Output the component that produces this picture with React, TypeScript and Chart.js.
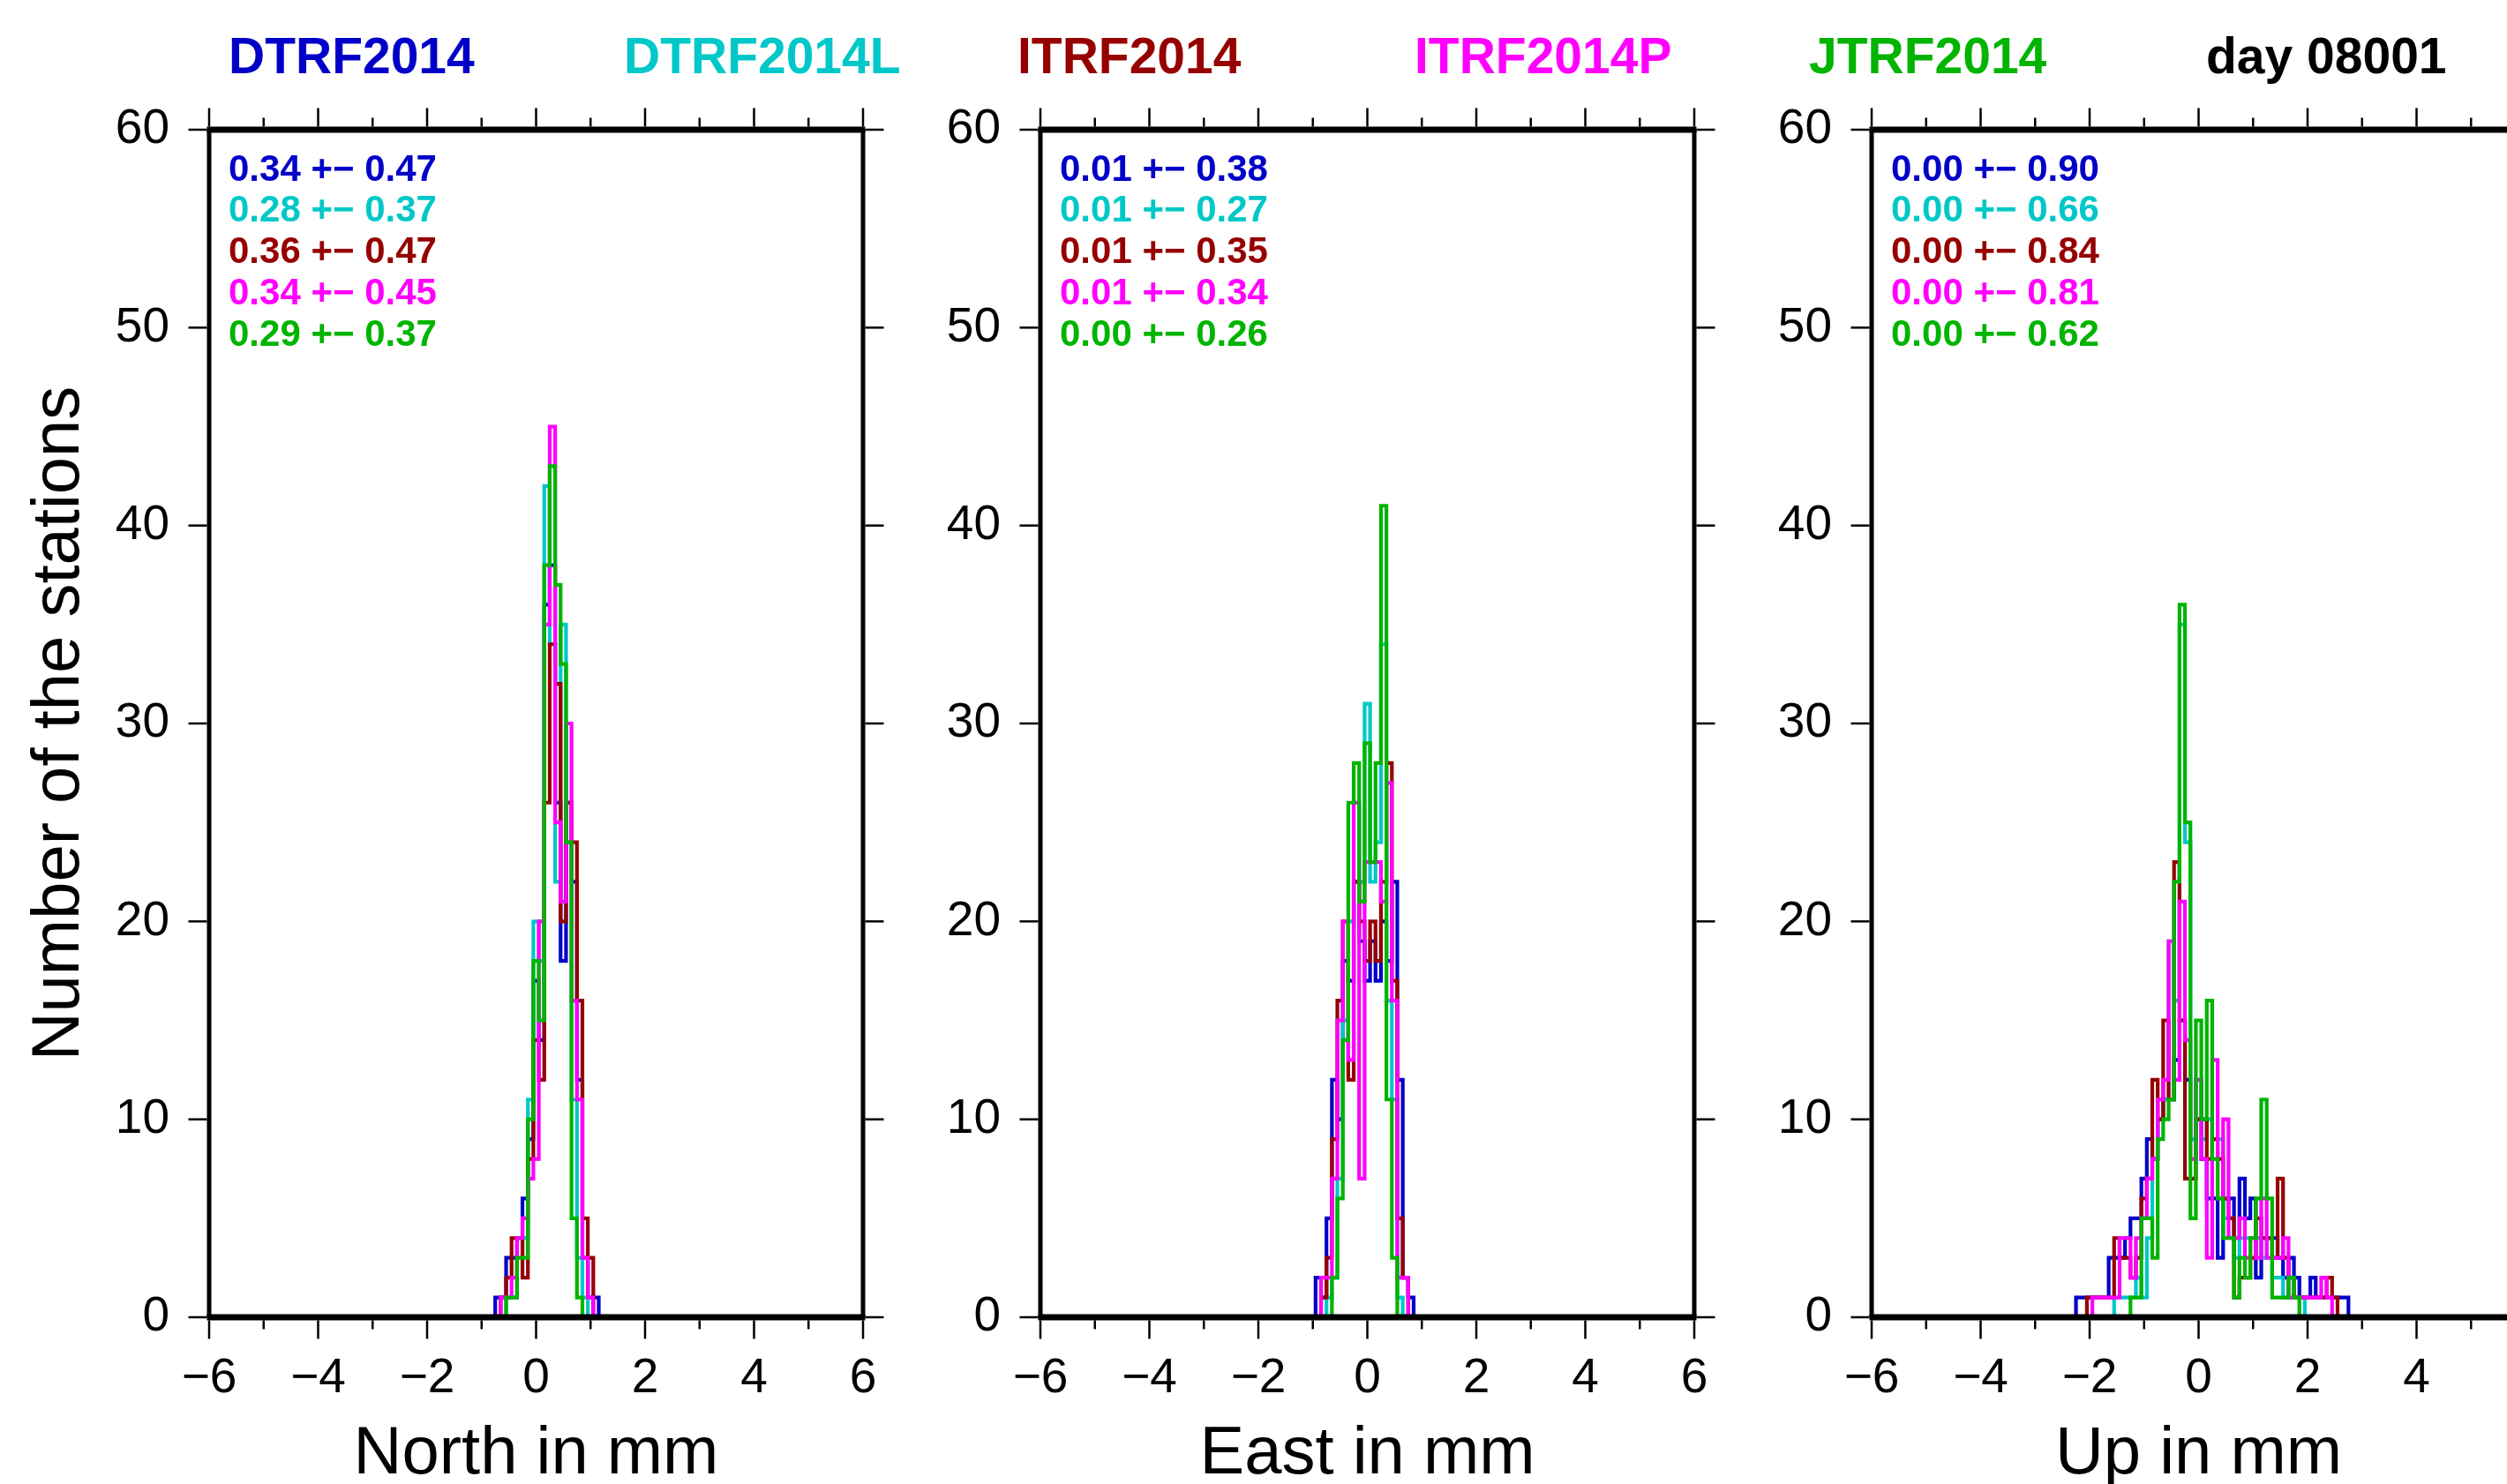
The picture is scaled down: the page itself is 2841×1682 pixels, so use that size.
import React, { useEffect, useRef } from 'react';
import { Chart, registerables } from 'chart.js';

Chart.register(...registerables);

const FONT = '"Liberation Sans", Arial, Helvetica, sans-serif';
const PAGE_W = 2841;
const PAGE_H = 1682;
const CANVAS_W = 2980;
const CANVAS_H = 1720;

const BIN_WIDTH = 0.1;

const seriesNames = ['DTRF2014', 'DTRF2014L', 'ITRF2014', 'ITRF2014P', 'JTRF2014'];
const seriesColors = ['#0000c8', '#00c8c8', '#960000', '#ff00ff', '#00b400'];
const dayLabel = 'day 08001';

const xTickValues = [-6, -4, -2, 0, 2, 4, 6];
const yTickValues = [0, 10, 20, 30, 40, 50, 60];

// ---- North (bin centres from -0.7, width 0.1) ----
const northStart = -0.7;
const northDTRF2014 = [1, 1, 3, 3, 4, 6, 9, 17, 14, 36, 38, 26, 18, 26, 22, 12, 3, 1, 1];
const northDTRF2014L = [0, 0, 1, 1, 3, 4, 11, 20, 18, 42, 34, 22, 35, 24, 11, 3, 1, 0, 0];
const northITRF2014 = [0, 1, 2, 4, 4, 2, 8, 14, 12, 26, 34, 32, 20, 26, 24, 16, 5, 3, 0];
const northITRF2014P = [0, 1, 1, 2, 4, 5, 7, 8, 20, 35, 45, 25, 21, 30, 16, 11, 3, 1, 0];
const northJTRF2014 = [0, 0, 1, 1, 3, 3, 10, 18, 15, 38, 43, 37, 33, 24, 5, 1, 0, 0, 0];
const northStats = ['0.34 +\u2212 0.47', '0.28 +\u2212 0.37', '0.36 +\u2212 0.47', '0.34 +\u2212 0.45', '0.29 +\u2212 0.37'];

// ---- East (bin centres from -0.9) ----
const eastStart = -0.9;
const eastDTRF2014 = [2, 1, 5, 12, 10, 18, 17, 22, 19, 17, 19, 17, 20, 18, 22, 12, 2, 1];
const eastDTRF2014L = [0, 0, 1, 2, 7, 15, 20, 26, 22, 31, 22, 24, 34, 16, 11, 1, 0, 0];
const eastITRF2014 = [0, 1, 3, 9, 16, 20, 12, 22, 20, 18, 20, 18, 22, 28, 17, 5, 2, 0];
const eastITRF2014P = [0, 2, 2, 7, 15, 20, 13, 26, 7, 23, 23, 23, 21, 27, 16, 2, 2, 0];
const eastJTRF2014 = [0, 0, 0, 2, 6, 14, 26, 28, 21, 29, 23, 28, 41, 11, 3, 0, 0, 0];
const eastStats = ['0.01 +\u2212 0.38', '0.01 +\u2212 0.27', '0.01 +\u2212 0.35', '0.01 +\u2212 0.34', '0.00 +\u2212 0.26'];

// ---- Up (bin centres from -2.2) ----
const upStart = -2.2;
const upDTRF2014 = [
  1, 1, 1, 1, 1, 1, 3, 3, 3, 4,
  5, 5, 7, 9, 8, 10, 11, 11, 13, 15,
  12, 9, 10, 8, 6, 6, 3, 6, 6, 4,
  7, 5, 6, 2, 4, 4, 4, 3, 2, 3,
  2, 1, 1, 2, 1, 1, 1, 1, 1, 1,
];
const upDTRF2014L = [
  0, 0, 0, 0, 0, 0, 0, 1, 1, 1,
  1, 2, 1, 4, 8, 10, 11, 19, 16, 35,
  24, 9, 12, 9, 10, 9, 9, 5, 5, 3,
  4, 4, 4, 4, 3, 4, 2, 2, 1, 2,
  1, 1, 0, 0, 0, 0, 0, 0, 0, 0,
];
const upITRF2014 = [
  0, 0, 1, 1, 1, 1, 1, 4, 3, 3,
  2, 3, 6, 7, 12, 10, 15, 11, 23, 15,
  7, 7, 10, 10, 8, 9, 8, 6, 5, 1,
  2, 2, 3, 5, 4, 4, 3, 7, 3, 2,
  1, 1, 1, 1, 1, 1, 2, 1, 0, 0,
];
const upITRF2014P = [
  0, 0, 0, 1, 1, 1, 1, 1, 4, 4,
  2, 4, 5, 7, 8, 11, 12, 19, 12, 21,
  14, 8, 12, 8, 3, 13, 6, 10, 4, 4,
  5, 3, 4, 3, 6, 3, 3, 3, 4, 1,
  1, 1, 1, 1, 1, 2, 1, 0, 0, 0,
];
const upJTRF2014 = [
  0, 0, 0, 0, 0, 0, 0, 0, 0, 0,
  1, 1, 5, 5, 3, 9, 10, 11, 22, 36,
  25, 5, 15, 10, 16, 8, 6, 4, 4, 1,
  3, 2, 4, 6, 11, 6, 1, 1, 1, 2,
  1, 0, 0, 0, 0, 0, 0, 0, 0, 0,
];
const upStats = ['0.00 +\u2212 0.90', '0.00 +\u2212 0.66', '0.00 +\u2212 0.84', '0.00 +\u2212 0.81', '0.00 +\u2212 0.62'];

// ---- layout ----
const PLOT_TOP = 147;
const PLOT_BOTTOM = 1493;
const headerX = [259, 707, 1153, 1603, 2050, 2500];
const headerBaseline = 83;

type Panel = {
  xTitle: string;
  yTitle?: string;
  plotLeft: number;
  plotRight: number;
  start: number;
  counts: number[][];
  stats: string[];
};

const panels: Panel[] = [
  {
    xTitle: 'North in mm',
    yTitle: 'Number of the stations',
    plotLeft: 237,
    plotRight: 978,
    start: northStart,
    counts: [northDTRF2014, northDTRF2014L, northITRF2014, northITRF2014P, northJTRF2014],
    stats: northStats,
  },
  {
    xTitle: 'East in mm',
    plotLeft: 1179,
    plotRight: 1920,
    start: eastStart,
    counts: [eastDTRF2014, eastDTRF2014L, eastITRF2014, eastITRF2014P, eastJTRF2014],
    stats: eastStats,
  },
  {
    xTitle: 'Up in mm',
    plotLeft: 2121,
    plotRight: 2862,
    start: upStart,
    counts: [upDTRF2014, upDTRF2014L, upITRF2014, upITRF2014P, upJTRF2014],
    stats: upStats,
  },
];

function stairs(start: number, counts: number[]) {
  const r = (v: number) => Math.round(v * 1000) / 1000;
  const e0 = start - BIN_WIDTH / 2;
  const pts: { x: number; y: number }[] = [{ x: r(e0), y: 0 }];
  counts.forEach((c, i) => {
    pts.push({ x: r(e0 + i * BIN_WIDTH), y: c });
    pts.push({ x: r(e0 + (i + 1) * BIN_WIDTH), y: c });
  });
  pts.push({ x: r(e0 + counts.length * BIN_WIDTH), y: 0 });
  return pts;
}

const fmtTick = (v: number) => (v < 0 ? '\u2212' + Math.abs(v) : String(v));

const framePlugin = {
  id: 'gmtFrame',
  afterDatasetsDraw(chart: any) {
    const { ctx, chartArea: a, scales } = chart;
    const xs = scales.x;
    const ys = scales.y;
    ctx.save();
    ctx.strokeStyle = '#000';
    ctx.lineCap = 'butt';
    const line = (x1: number, y1: number, x2: number, y2: number) => {
      ctx.beginPath();
      ctx.moveTo(x1, y1);
      ctx.lineTo(x2, y2);
      ctx.stroke();
    };
    ctx.lineWidth = 2.5;
    for (let v = -6; v <= 6; v++) {
      const px = xs.getPixelForValue(v);
      const len = v % 2 === 0 ? 21 : 10;
      line(px, a.bottom + 3.5, px, a.bottom + 3.5 + len);
      line(px, a.top - 3.5, px, a.top - 3.5 - len);
    }
    for (const v of yTickValues) {
      const py = ys.getPixelForValue(v);
      line(a.left - 2.5, py, a.left - 2.5 - 21, py);
      line(a.right + 2.5, py, a.right + 2.5 + 21, py);
    }
    ctx.lineWidth = 5;
    line(a.left, a.top, a.left, a.bottom);
    line(a.right, a.top, a.right, a.bottom);
    ctx.lineWidth = 7;
    line(a.left - 2.5, a.top, a.right + 2.5, a.top);
    line(a.left - 2.5, a.bottom, a.right + 2.5, a.bottom);
    ctx.restore();
  },
};

function statsPlugin(stats: string[]) {
  return {
    id: 'statsText',
    afterDraw(chart: any) {
      const { ctx, chartArea: a } = chart;
      ctx.save();
      ctx.font = `bold 42px ${FONT}`;
      ctx.textAlign = 'left';
      ctx.textBaseline = 'alphabetic';
      stats.forEach((s, i) => {
        ctx.fillStyle = seriesColors[i];
        ctx.fillText(s, a.left + 22, a.top + 57.5 + i * 46.75);
      });
      ctx.restore();
    },
  };
}

const headerPlugin = {
  id: 'headerText',
  afterDraw(chart: any) {
    const { ctx } = chart;
    ctx.save();
    ctx.font = `bold 57px ${FONT}`;
    ctx.textAlign = 'left';
    ctx.textBaseline = 'alphabetic';
    const labels = [...seriesNames, dayLabel];
    const colors = [...seriesColors, '#000000'];
    labels.forEach((t, i) => {
      ctx.fillStyle = colors[i];
      ctx.fillText(t, headerX[i], headerBaseline);
    });
    ctx.restore();
  },
};

function buildConfig(panel: Panel, withHeader: boolean): any {
  const yW = panel.yTitle ? panel.plotLeft : 150;
  const plugins: any[] = [framePlugin, statsPlugin(panel.stats)];
  if (withHeader) plugins.push(headerPlugin);
  return {
    type: 'line',
    data: {
      datasets: panel.counts.map((c, i) => ({
        label: seriesNames[i],
        data: stairs(panel.start, c),
        borderColor: seriesColors[i],
        backgroundColor: seriesColors[i],
        borderWidth: 4.2,
        borderJoinStyle: 'miter',
        borderCapStyle: 'butt',
        pointRadius: 0,
        pointHoverRadius: 0,
        fill: false,
        tension: 0,
        order: 5 - i,
      })),
    },
    options: {
      animation: false,
      responsive: false,
      maintainAspectRatio: false,
      devicePixelRatio: 1,
      events: [],
      layout: {
        padding: {
          left: panel.plotLeft - yW,
          right: CANVAS_W - panel.plotRight,
          top: PLOT_TOP,
          bottom: 0,
        },
      },
      plugins: {
        legend: { display: false },
        tooltip: { enabled: false },
        title: { display: false },
      },
      scales: {
        x: {
          type: 'linear',
          position: 'bottom',
          min: -6,
          max: 6,
          afterBuildTicks: (s: any) => {
            s.ticks = xTickValues.map((v) => ({ value: v }));
          },
          ticks: {
            autoSkip: false,
            maxRotation: 0,
            minRotation: 0,
            color: '#000',
            padding: 37,
            font: { family: FONT, size: 55, lineHeight: 1.2 },
            callback: (v: any) => fmtTick(Number(v)),
          },
          grid: { display: false, drawTicks: false },
          border: { display: false },
          title: {
            display: true,
            text: panel.xTitle,
            color: '#000',
            font: { family: FONT, size: 76, lineHeight: 1 },
            padding: { top: 0, bottom: 33 },
          },
          afterFit: (s: any) => {
            s.height = CANVAS_H - PLOT_BOTTOM;
          },
        },
        y: {
          type: 'linear',
          position: 'left',
          min: 0,
          max: 60,
          afterBuildTicks: (s: any) => {
            s.ticks = yTickValues.map((v) => ({ value: v }));
          },
          ticks: {
            autoSkip: false,
            color: '#000',
            padding: 45,
            font: { family: FONT, size: 55, lineHeight: 1.2 },
            callback: (v: any) => fmtTick(Number(v)),
          },
          grid: { display: false, drawTicks: false },
          border: { display: false },
          title: {
            display: !!panel.yTitle,
            text: panel.yTitle || '',
            color: '#000',
            font: { family: FONT, size: 76, lineHeight: 1 },
            padding: { top: 30, bottom: 0 },
          },
          afterFit: (s: any) => {
            s.width = yW;
          },
        },
      },
    },
    plugins,
  };
}

function PanelChart({ panel, withHeader }: { panel: Panel; withHeader: boolean }) {
  const ref = useRef<HTMLCanvasElement>(null);
  useEffect(() => {
    const canvas = ref.current;
    if (!canvas) return;
    const chart = new Chart(canvas, buildConfig(panel, withHeader));
    return () => chart.destroy();
  }, [panel, withHeader]);
  return (
    <canvas
      ref={ref}
      width={CANVAS_W}
      height={CANVAS_H}
      style={{ position: 'absolute', left: 0, top: 0, width: CANVAS_W, height: CANVAS_H }}
    />
  );
}

export default function App() {
  return (
    <div
      style={{
        position: 'fixed',
        left: 0,
        top: 0,
        width: PAGE_W,
        height: PAGE_H,
        overflow: 'hidden',
        background: '#ffffff',
      }}
    >
      {panels.map((p, i) => (
        <PanelChart key={i} panel={p} withHeader={i === 0} />
      ))}
    </div>
  );
}
